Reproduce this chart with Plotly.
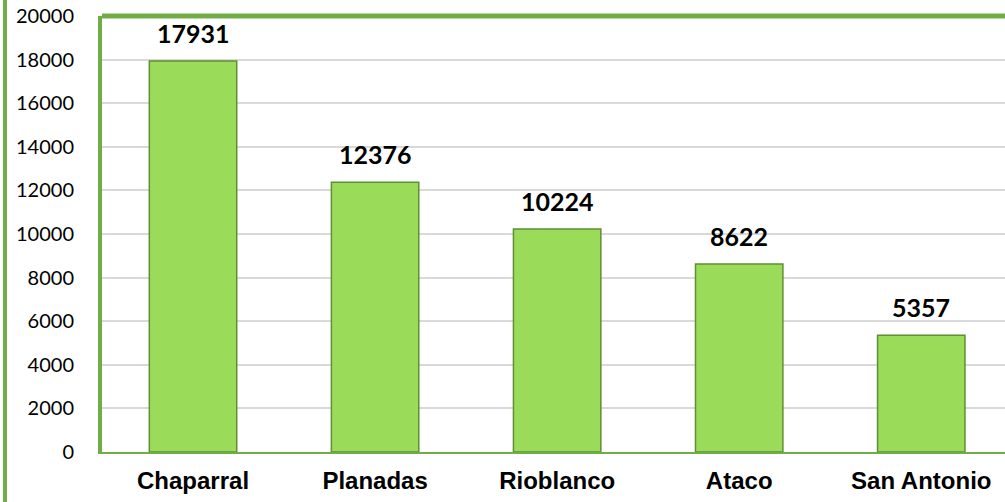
import plotly.graph_objects as go

municipios = ["Chaparral", "Planadas", "Rioblanco", "Ataco", "San Antonio"]
valores = [17931, 12376, 10224, 8622, 5357]
y_ticks = [0, 2000, 4000, 6000, 8000, 10000, 12000, 14000, 16000, 18000, 20000]

verde = "#70AD47"

fig = go.Figure()

fig.add_trace(go.Bar(
    x=municipios,
    y=valores,
    width=0.48,
    marker=dict(color="#9BDB5A", line=dict(color="#5F8F32", width=1.5)),
    showlegend=False,
    hoverinfo="x+y",
))

for m, v in zip(municipios, valores):
    fig.add_annotation(x=m, y=v, text="<b>%d</b>" % v, showarrow=False,
                       yshift=28, font=dict(family="Lato", size=25, color="black"))

fig.update_layout(
    width=1005, height=502,
    margin=dict(l=102, r=0, t=16, b=50, autoexpand=False),
    plot_bgcolor="white",
    paper_bgcolor="white",
    xaxis=dict(
        range=[-0.5, 4.46],
        showline=True, linecolor=verde, linewidth=2,
        tickfont=dict(family="Liberation Sans", size=24, color="black", weight="bold"),
        ticks="", ticklabelstandoff=6,
        showgrid=False, automargin=False,
    ),
    yaxis=dict(
        range=[0, 20000],
        tickvals=y_ticks,
        ticktext=[str(t) for t in y_ticks],
        showline=True, linecolor=verde, linewidth=4,
        showgrid=True, gridcolor="#D9D9D9", gridwidth=1.5,
        tickfont=dict(family="Lato", size=20, color="black"),
        ticks="", ticklabelstandoff=20,
        zeroline=False, automargin=False,
    ),
    shapes=[
        # top border of the plot area
        dict(type="line", xref="paper", yref="paper", x0=0, x1=1, y0=1, y1=1,
             line=dict(color=verde, width=5)),
        # outer chart frame on the left
        dict(type="line", xref="paper", yref="paper", x0=-97 / 903, x1=-97 / 903,
             y0=-50 / 436, y1=1 + 16 / 436, line=dict(color=verde, width=4)),
    ],
)

# drop the default body margin so the figure sits at the page corner
fig.write_html("out.html", config={"displayModeBar": False},
               post_script="document.body.style.margin='0';")
